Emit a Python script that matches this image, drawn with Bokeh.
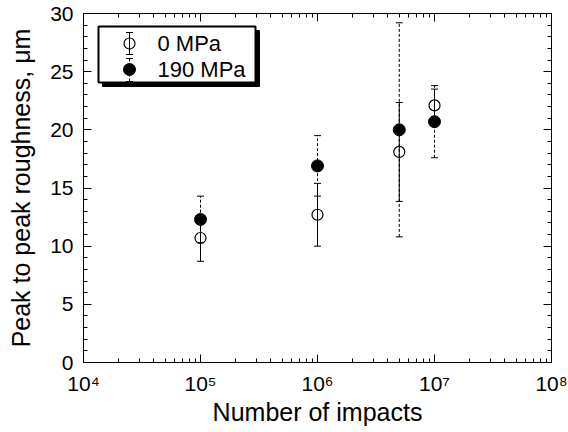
from bokeh.plotting import figure
from bokeh.models import (FixedTicker, CustomJSTickFormatter, LogAxis, LinearAxis,
                          BoxAnnotation, Label, Arrow, TeeHead, ColumnDataSource)
from bokeh.embed import file_html
from bokeh.resources import INLINE

# ---- data ----
impacts = [1e5, 1e6, 5e6, 1e7]
r_0mpa = [10.7, 12.7, 18.1, 22.1]
err_0mpa = [2.0, 2.7, 4.25, 1.4]
r_190mpa = [12.3, 16.9, 20.0, 20.7]
err_190mpa = [2.0, 2.6, 9.2, 3.1]
series_labels = ["0 MPa", "190 MPa"]
x_major = [1e4, 1e5, 1e6, 1e7, 1e8]
y_major = [0, 5, 10, 15, 20, 25, 30]

FONT = "Liberation Sans"

src0 = ColumnDataSource(dict(x=impacts, y=r_0mpa,
                             lo=[v - e for v, e in zip(r_0mpa, err_0mpa)],
                             hi=[v + e for v, e in zip(r_0mpa, err_0mpa)]))
src1 = ColumnDataSource(dict(x=impacts, y=r_190mpa,
                             lo=[v - e for v, e in zip(r_190mpa, err_190mpa)],
                             hi=[v + e for v, e in zip(r_190mpa, err_190mpa)]))

p = figure(width=568, height=432, x_axis_type="log", x_range=(1e4, 1e8), y_range=(0, 30),
           output_backend="svg", toolbar_location=None,
           min_border_left=83, min_border_right=17, min_border_top=13, min_border_bottom=70)
p.xgrid.visible = False
p.ygrid.visible = False
p.outline_line_color = "black"
p.outline_line_width = 1
p.background_fill_color = "white"
p.border_fill_color = "white"

x_minor = [m * d for d in [1e4, 1e5, 1e6, 1e7] for m in range(2, 10)]
xticker = FixedTicker(ticks=x_major, minor_ticks=x_minor)
yticker = FixedTicker(ticks=y_major, minor_ticks=list(range(0, 31)))

fmt = CustomJSTickFormatter(code="""
const sup = {'0':'\u2070','1':'\u00b9','2':'\u00b2','3':'\u00b3','4':'\u2074','5':'\u2075','6':'\u2076','7':'\u2077','8':'\u2078','9':'\u2079'};
const e = Math.round(Math.log10(tick));
return '10' + String(e).split('').map(c => sup[c]).join('');
""")

def style_axis(ax):
    ax.axis_line_color = "black"
    ax.major_tick_line_color = "black"
    ax.minor_tick_line_color = "black"
    ax.major_tick_in = 8
    ax.major_tick_out = 0
    ax.minor_tick_in = 4
    ax.minor_tick_out = 0
    ax.major_label_text_font = FONT
    ax.major_label_text_color = "black"
    ax.axis_label_text_font = FONT
    ax.axis_label_text_font_style = "normal"
    ax.axis_label_text_color = "black"

xa = p.xaxis[0]
xa.ticker = xticker
xa.formatter = fmt
style_axis(xa)
xa.major_label_text_font_size = "21px"
xa.major_label_standoff = 9
xa.axis_label = "Number of impacts"
xa.axis_label_text_font_size = "25px"
xa.axis_label_standoff = 0

ya = p.yaxis[0]
ya.ticker = yticker
style_axis(ya)
ya.major_label_text_font_size = "21px"
ya.major_label_standoff = 10
ya.axis_label = "Peak to peak roughness, \u03bcm"
ya.axis_label_text_font_size = "25px"
ya.axis_label_standoff = 12

top = LogAxis(ticker=xticker)
style_axis(top)
top.major_label_text_font_size = "1px"
top.major_label_text_alpha = 0
top.major_label_standoff = 0
p.add_layout(top, "above")
right = LinearAxis(ticker=yticker)
style_axis(right)
right.major_label_text_font_size = "1px"
right.major_label_text_alpha = 0
right.major_label_standoff = 0
p.add_layout(right, "right")

# error bars
p.segment(x0="x", y0="lo", x1="x", y1="hi", source=src0, line_color="black", line_width=1)
p.scatter(x="x", y="lo", source=src0, marker="dash", size=7, line_color="black", line_width=1)
p.scatter(x="x", y="hi", source=src0, marker="dash", size=7, line_color="black", line_width=1)
p.segment(x0="x", y0="lo", x1="x", y1="hi", source=src1, line_color="black", line_width=1,
          line_dash="3 2")
p.scatter(x="x", y="lo", source=src1, marker="dash", size=7, line_color="black", line_width=1)
p.scatter(x="x", y="hi", source=src1, marker="dash", size=7, line_color="black", line_width=1)

# markers
p.scatter(x="x", y="y", source=src0, marker="circle", size=11, fill_color=None,
          line_color="black", line_width=1.2)
p.scatter(x="x", y="y", source=src1, marker="circle", size=12, fill_color="black",
          line_color="black")

# legend (screen units relative to frame)
box_kw = dict(left_units="screen", right_units="screen",
              top_units="screen", bottom_units="screen", line_alpha=1)
p.add_layout(BoxAnnotation(left=19, right=176, top=332, bottom=276,
                           fill_color="black", fill_alpha=1, line_color="black", **box_kw))
p.add_layout(BoxAnnotation(left=15, right=172, top=336, bottom=280,
                           fill_color="white", fill_alpha=1, line_color="black", line_width=2,
                           **box_kw))
p.add_layout(Arrow(x_start=46, y_start=308, x_end=46, y_end=330,
                   start_units="screen", end_units="screen",
                   start=TeeHead(size=7, line_width=1), end=TeeHead(size=7, line_width=1),
                   line_color="black", line_width=1))
p.add_layout(Arrow(x_start=46, y_start=281, x_end=46, y_end=304,
                   start_units="screen", end_units="screen",
                   start=TeeHead(size=7, line_width=1), end=TeeHead(size=7, line_width=1),
                   line_color="black", line_width=1, line_dash="3 2"))
p.add_layout(BoxAnnotation(left=40.5, right=51.5, top=324.5, bottom=313.5,
                           fill_color=None, line_color="black", line_width=1.2,
                           border_radius=6, **box_kw))
p.add_layout(BoxAnnotation(left=40, right=52, top=299, bottom=287,
                           fill_color="black", fill_alpha=1, line_color="black",
                           border_radius=6, **box_kw))
for lab, yy in zip(series_labels, [319, 293]):
    p.add_layout(Label(x=74, y=yy, x_units="screen", y_units="screen", text=lab,
                       text_font=FONT, text_font_size="22px", text_baseline="middle",
                       text_color="black"))

open("out.html", "w").write(file_html(p, INLINE))
